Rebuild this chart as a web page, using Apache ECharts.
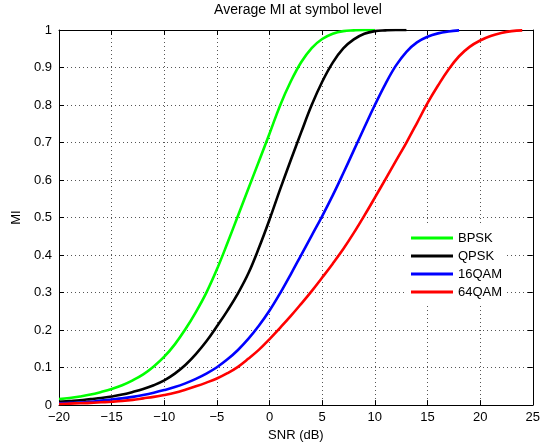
<!DOCTYPE html>
<html><head><meta charset="utf-8">
<script src="https://cdn.jsdelivr.net/npm/echarts@6/dist/echarts.min.js"></script>
<style>html,body{margin:0;padding:0;background:#fff}#c{width:543px;height:447px}</style>
</head><body><div id="c"></div>
<script>
const snr = [-20,-19,-18,-17,-16,-15,-14,-13,-12,-11,-10,-9,-8,-7,-6,-5,-4,-3,-2,-1,0,1,2,3,4,5,6,7,8,9,10,11,12,13,14,15,16,17,18,19,20,21,22,23,24];
const seriesNames = ['BPSK','QPSK','16QAM','64QAM'];
const bpsk = [0.016,0.019,0.023,0.028,0.035,0.043,0.053,0.066,0.082,0.103,0.129,0.162,0.202,0.248,0.300,0.362,0.432,0.505,0.578,0.651,0.724,0.799,0.862,0.914,0.952,0.976,0.990,0.997,0.999,1.0,1.0];
const qpsk = [0.009,0.011,0.013,0.016,0.019,0.023,0.028,0.035,0.043,0.053,0.066,0.084,0.107,0.136,0.170,0.210,0.252,0.298,0.352,0.420,0.495,0.575,0.652,0.727,0.800,0.862,0.913,0.951,0.975,0.990,0.997,0.999,1.0,1.0];
const qam16 = [0.005,0.006,0.007,0.009,0.012,0.015,0.018,0.022,0.027,0.033,0.040,0.048,0.058,0.070,0.084,0.101,0.122,0.147,0.177,0.212,0.252,0.298,0.348,0.400,0.452,0.504,0.559,0.618,0.679,0.740,0.800,0.856,0.905,0.942,0.967,0.982,0.991,0.996,0.999];
const qam64 = [0.003,0.004,0.005,0.006,0.0075,0.009,0.011,0.014,0.018,0.022,0.027,0.033,0.041,0.050,0.060,0.071,0.085,0.102,0.124,0.148,0.176,0.206,0.237,0.270,0.304,0.340,0.377,0.416,0.459,0.505,0.553,0.602,0.651,0.700,0.752,0.805,0.852,0.895,0.930,0.955,0.972,0.984,0.992,0.997,0.999];
const colors = ['#00ff00','#000000','#0000ff','#ff0000'];
const title = 'Average MI at symbol level';
const xName = 'SNR (dB)';
const yName = 'MI';

const FONT = "'Liberation Sans', Arial, Helvetica, sans-serif";
const chart = echarts.init(document.getElementById('c'), null, {renderer:'canvas'});
const values = [bpsk, qpsk, qam16, qam64];
const series = values.map((v, i) => ({
  name: seriesNames[i], type: 'line', xAxisIndex: 0, yAxisIndex: 0,
  data: v.map((y, k) => [snr[k], y]),
  symbol: 'none', smooth: 0.4, smoothConstraint: false,
  lineStyle: {color: colors[i], width: 2.6}, itemStyle: {color: colors[i]},
  animation: false
}));
const tickStyle = {show: true, inside: true, length: 5, lineStyle: {color: '#000', width: 1}};
const axisLine = {show: true, onZero: false, lineStyle: {color: '#000', width: 1}};
const split = {show: true, lineStyle: {type: [1, 3], color: '#555', width: 1}};
chart.setOption({
  animation: false,
  backgroundColor: '#fff',
  textStyle: {fontFamily: FONT},
  title: {text: title, left: 298, top: 3, textAlign: 'center', padding: 0,
    textStyle: {fontFamily: FONT, fontSize: 14, fontWeight: 'normal', color: '#000'}},
  grid: {left: 59, right: 6, top: 30, bottom: 41, containLabel: false},
  legend: {
    data: seriesNames, orient: 'vertical', left: 406, top: 226,
    padding: [5, 3, 5, 5], itemGap: 4, itemWidth: 42, itemHeight: 3, icon: 'rect',
    backgroundColor: '#fff',
    textStyle: {fontFamily: FONT, fontSize: 13, color: '#000', lineHeight: 14}
  },
  xAxis: [
    {type: 'value', min: -20, max: 25, interval: 5, position: 'bottom',
     name: xName, nameLocation: 'middle', nameGap: 23,
     nameTextStyle: {fontFamily: FONT, fontSize: 13, color: '#000'},
     axisLine: axisLine, axisTick: tickStyle, splitLine: split,
     axisLabel: {margin: 6, fontFamily: FONT, fontSize: 13, color: '#000',
       formatter: v => String(v).replace('-', '\u2212')}},
    {type: 'value', min: -20, max: 25, interval: 5, position: 'top',
     axisLine: axisLine, axisTick: tickStyle, splitLine: {show: false}, axisLabel: {show: false}}
  ],
  yAxis: [
    {type: 'value', min: 0, max: 1, interval: 0.1, position: 'left',
     name: yName, nameLocation: 'middle', nameGap: 36,
     nameTextStyle: {fontFamily: FONT, fontSize: 13, color: '#000'},
     axisLine: axisLine, axisTick: tickStyle, splitLine: split,
     axisLabel: {margin: 7, fontFamily: FONT, fontSize: 13, color: '#000'}},
    {type: 'value', min: 0, max: 1, interval: 0.1, position: 'right',
     axisLine: axisLine, axisTick: tickStyle, splitLine: {show: false}, axisLabel: {show: false}}
  ],
  series: series
});
</script></body></html>
